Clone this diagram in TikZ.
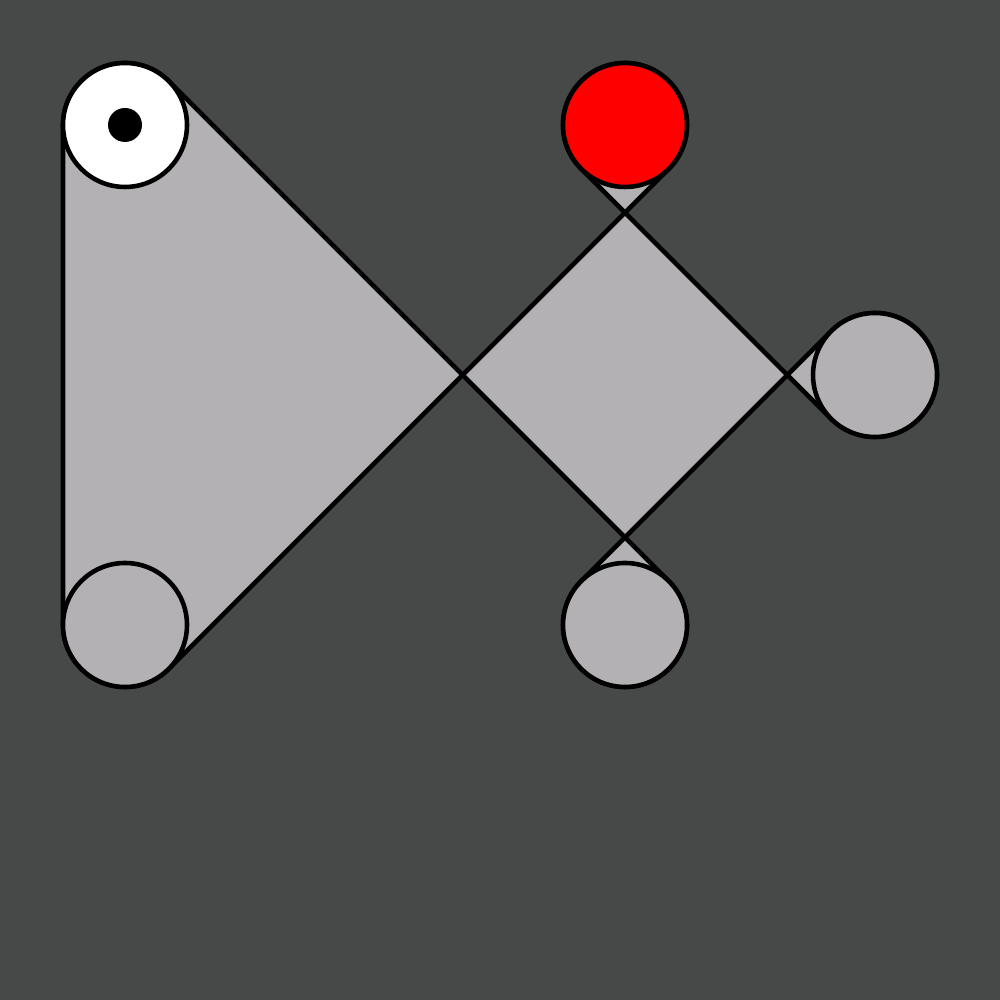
\documentclass[tikz,border=0pt]{standalone}
\usetikzlibrary{backgrounds}
\definecolor{slate}{RGB}{71,72,72}
\definecolor{beltgray}{RGB}{179,177,180}
\newcommand{\wheelr}{0.62cm}
\tikzset{% common styles of the belt picture
  pulley/.style = {shape=circle, draw, line width=1.3pt,
                   inner sep=0pt, outer sep=0pt,
                   minimum size=1.24cm, fill=beltgray},
  drive/.style  = {pulley, fill=white},
  tense/.style  = {pulley, fill=red},
  hub/.style    = {shape=circle, fill=black, inner sep=0pt,
                   minimum size=0.34cm},
  belt/.style   = {draw, fill=beltgray, line width=1.3pt},
}
\begin{document}
\begin{tikzpicture}
    \useasboundingbox (0,0) rectangle (10,10);
    % wheels first, belt goes behind them
    \node [drive] (driver)  at (1.25,8.75) {};
    \node [hub]   (axle)    at (driver.center) {};
    \node [tense] (redwheel)   at (6.25,8.75) {};
    \node [pulley] (rightwheel) at (8.75,6.25) {};
    \node [pulley] (leftwheel)  at (1.25,3.75) {};
    \node [pulley] (lowwheel)   at (6.25,3.75) {};
    \begin{scope}[on background layer]
        \fill [slate] (0,0) rectangle (10,10);
        % one closed belt, crossing itself twice
        \path [belt] (driver.180) -- (leftwheel.180)
            arc [start angle=180, end angle=315, radius=\wheelr] -- (redwheel.-45)
            arc [start angle=-45, end angle=225, radius=\wheelr] -- (rightwheel.225)
            arc [start angle=225, end angle=495, radius=\wheelr] -- (lowwheel.135)
            arc [start angle=135, end angle=405, radius=\wheelr] -- (driver.45)
            arc [start angle=45, end angle=180, radius=\wheelr] -- cycle;
    \end{scope}
\end{tikzpicture}
\end{document}
